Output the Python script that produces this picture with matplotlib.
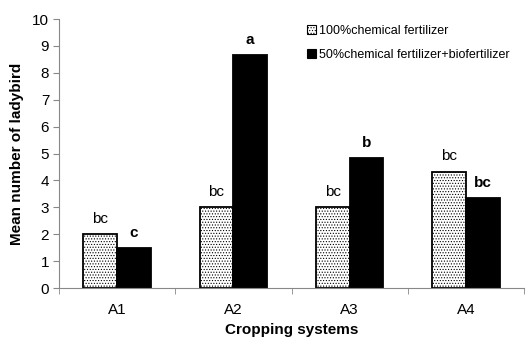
import numpy as np
import matplotlib.pyplot as plt

plt.rcParams['font.family'] = ['Liberation Sans', 'DejaVu Sans']
plt.rcParams['hatch.color'] = '#aaaaaa'
plt.rcParams['hatch.linewidth'] = 0.5

systems = ["A1", "A2", "A3", "A4"]
chem100 = [2.0, 3.0, 3.0, 4.33]
chem50_bio = [1.5, 8.67, 4.83, 3.33]
letters100 = ["bc", "bc", "bc", "bc"]
letters50 = ["c", "a", "b", "bc"]
series_names = ["100%chemical fertilizer", "50%chemical fertilizer+biofertilizer"]

x = np.arange(len(systems))
w = 0.29

fig = plt.figure(figsize=(5.31, 3.37), dpi=100)
ax = fig.add_axes([0.111, 0.1454, 0.876, 0.798])

b1 = ax.bar(x - w / 2, chem100, w, color="white", edgecolor="black",
            linewidth=1.3, hatch="......", label=series_names[0])
b2 = ax.bar(x + w / 2, chem50_bio, w, color="black", edgecolor="black",
            linewidth=1.3, label=series_names[1])

for xi, v, t in zip(x - w / 2, chem100, letters100):
    ax.text(xi, v + 0.3, t, ha="center", va="bottom", fontsize=11)
for xi, v, t in zip(x + w / 2, chem50_bio, letters50):
    ax.text(xi, v + 0.3, t, ha="center", va="bottom", fontsize=11,
            fontweight="bold")

ax.set_xlim(-0.5, 3.5)
ax.set_ylim(0, 10)
ax.set_yticks(range(0, 11))
ax.set_xticks(x)
ax.set_xticklabels(systems)
ax.set_xticks(np.arange(-0.5, 4.0, 1.0), minor=True)
ax.tick_params(axis="x", which="major", length=0, pad=11, labelsize=11)
ax.tick_params(axis="x", which="minor", length=4, color="#888888")
ax.tick_params(axis="y", length=4, color="#888888", labelsize=11, pad=3)

for s in ["top", "right"]:
    ax.spines[s].set_visible(False)
ax.spines["left"].set_color("#888888")
ax.spines["bottom"].set_color("#888888")

ax.set_ylabel("Mean number of ladybird", fontsize=11, fontweight="bold",
              labelpad=6)
ax.set_xlabel("Cropping systems", fontsize=11, fontweight="bold", labelpad=4)

leg = ax.legend(loc="upper left", bbox_to_anchor=(0.51, 1.02), frameon=False,
                handlelength=0.7, handleheight=0.7,
                handletextpad=0.25, labelspacing=0.95,
                prop={"size": 9.0})
for h in leg.legend_handles:
    h.set_linewidth(0.8)

fig.savefig("out.png", dpi=100)
